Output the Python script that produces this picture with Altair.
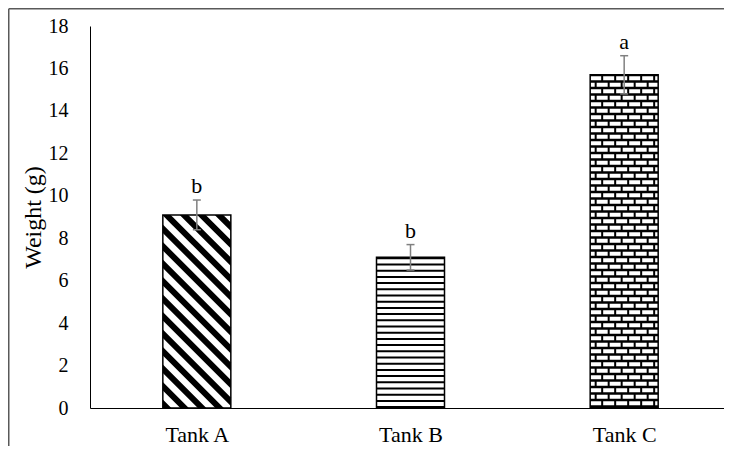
import altair as alt
import numpy as np
import pandas as pd

# ---- data ----
categories = ["Tank A", "Tank B", "Tank C"]
means = [9.1, 7.1, 15.7]
errors = [0.7, 0.6, 0.9]
letters = ["b", "b", "a"]
y_ticks = [0, 2, 4, 6, 8, 10, 12, 14, 16, 18]

# ---- layout ----
W, H = 634, 382
YMAX = 18
sx = 213.67           # px per category slot
XMAX = W / sx         # plot is slightly narrower than three full slots
sy = H / YMAX         # px per y unit
BAR_PX = 68
half = BAR_PX / 2 / sx
FONT = "Liberation Serif"

base = pd.DataFrame({
    "cat": categories,
    "pos": [i + 0.5 for i in range(len(categories))],
    "mean": means,
    "err": errors,
    "letter": letters,
})
base["x0"] = base["pos"] - half
base["x1"] = base["pos"] + half
base["zero"] = 0.0
base["lo"] = base["mean"] - base["err"]
base["hi"] = base["mean"] + base["err"]
base["c0"] = base["pos"] - 4 / sx
base["c1"] = base["pos"] + 4 / sx

label_js = "[" + ",".join("'%s'" % c for c in categories) + "][floor(datum.value)]"
xscale = alt.Scale(domain=[0, XMAX], nice=False, zero=False)
yscale = alt.Scale(domain=[0, YMAX], nice=False)
xaxis = alt.Axis(values=[0.5, 1.5, 2.5], labelExpr=label_js, labelFontSize=22,
                 labelPadding=16, ticks=False, grid=False, domainColor="black",
                 labelColor="black", labelFont=FONT)
yaxis = alt.Axis(values=y_ticks, labelFontSize=20, labelPadding=22, ticks=False,
                 grid=False, domainColor="black", labelColor="black", labelFont=FONT,
                 titleFont=FONT, titleFontSize=24, titleFontWeight="normal",
                 titleColor="black", titlePadding=3)


def X(field):
    return alt.X(field, type="quantitative", scale=xscale, axis=xaxis, title=None)


def Y(field):
    return alt.Y(field, type="quantitative", scale=yscale, axis=yaxis, title="Weight (g)")


# ---- fill pattern geometry (derived from the bar values) ----
# Tank A: diagonal stripes
ia = 0
Hb = means[ia] * sy
P, T = 17.5, 8.5
srows = []
sid = 0
for a in np.arange(-P, BAR_PX + Hb + P, P):
    us = {0.0, float(BAR_PX)}
    for b in (a - Hb, a + T - Hb, a, a + T):
        if 0 < b < BAR_PX:
            us.add(float(b))
    pts = []
    for u in sorted(us):
        lo = min(max(0.0, a - u), Hb)
        hi = max(min(Hb, a + T - u), lo)
        pts.append((u, lo, hi))
    if max(p[2] - p[1] for p in pts) <= 0:
        continue
    for u, lo, hi in pts:
        srows.append({"sid": sid, "x": base.x0[ia] + u / sx, "y": lo / sy, "y2": hi / sy})
    sid += 1
stripes = pd.DataFrame(srows)

# Tank C: brick rows
ic = 2
Hc = means[ic] * sy
brows = []
k = 0
while True:
    c = Hc - (1.5 + 2.0 + k * 6.5)
    if c - 2.0 < 0:
        break
    brows.append({"y": c / sy, "par": k % 2, "x0": base.x0[ic], "x1": base.x1[ic]})
    k += 1
bricks = pd.DataFrame(brows)

# ---- layers ----
fills = alt.Chart(base).mark_rect().encode(
    x=X("x0"), x2="x1", y=Y("mean"), y2="zero",
    color=alt.Color("cat:N", scale=alt.Scale(domain=categories, range=["white", "white", "black"]), legend=None),
)

stripe_layer = alt.Chart(stripes).mark_area(color="black", interpolate="linear").encode(
    x=X("x"), y=Y("y"), y2="y2", detail="sid:N",
)

lines_b = alt.Chart(base).transform_filter(alt.datum.cat == categories[1]).mark_rule(
    color="black", strokeWidth=BAR_PX, strokeDash=[2, 4.2], strokeCap="butt"
).encode(x=X("pos"), y=Y("mean"), y2="zero")

brick_even = alt.Chart(bricks).transform_filter(alt.datum.par == 0).mark_rule(
    color="white", strokeWidth=4, strokeDash=[11, 2], strokeCap="butt", strokeDashOffset=0
).encode(x=X("x0"), x2="x1", y=Y("y"))
brick_odd = alt.Chart(bricks).transform_filter(alt.datum.par == 1).mark_rule(
    color="white", strokeWidth=4, strokeDash=[11, 2], strokeCap="butt", strokeDashOffset=6.5
).encode(x=X("x0"), x2="x1", y=Y("y"))

borders = alt.Chart(base).mark_rect(fillOpacity=0, stroke="black", strokeWidth=1.5).encode(
    x=X("x0"), x2="x1", y=Y("mean"), y2="zero",
)

ebar = alt.Chart(base).mark_rule(color="#808080", strokeWidth=1.5).encode(
    x=X("pos"), y=Y("lo"), y2="hi",
)
cap_hi = alt.Chart(base).mark_rule(color="#808080", strokeWidth=1.5).encode(
    x=X("c0"), x2="c1", y=Y("hi"),
)
cap_lo = alt.Chart(base).mark_rule(color="#808080", strokeWidth=1.5).encode(
    x=X("c0"), x2="c1", y=Y("lo"),
)

text = alt.Chart(base).mark_text(baseline="bottom", dy=-2, font=FONT, fontSize=22, color="black").encode(
    x=X("pos"), y=Y("hi"), text="letter:N",
)

frame_df = pd.DataFrame({"k": [0]})
frame_v = alt.Chart(frame_df).mark_rule(color="#595959", strokeWidth=1.5).encode(
    x=alt.value(-81.25), y=alt.value(-17.25), y2=alt.value(H + 38),
)
frame_h = alt.Chart(frame_df).mark_rule(color="#595959", strokeWidth=1.5).encode(
    x=alt.value(-81.25), x2=alt.value(W), y=alt.value(-17.25),
)

chart = alt.layer(
    fills, stripe_layer, lines_b, brick_even, brick_odd, borders,
    ebar, cap_hi, cap_lo, text, frame_v, frame_h,
).properties(
    width=W, height=H,
    autosize=alt.AutoSizeParams(type="none"),
    padding={"left": 82, "top": 18, "right": 0, "bottom": 38},
).configure_view(strokeWidth=0)

chart.save("out.html", embed_options={"renderer": "svg", "actions": False})
